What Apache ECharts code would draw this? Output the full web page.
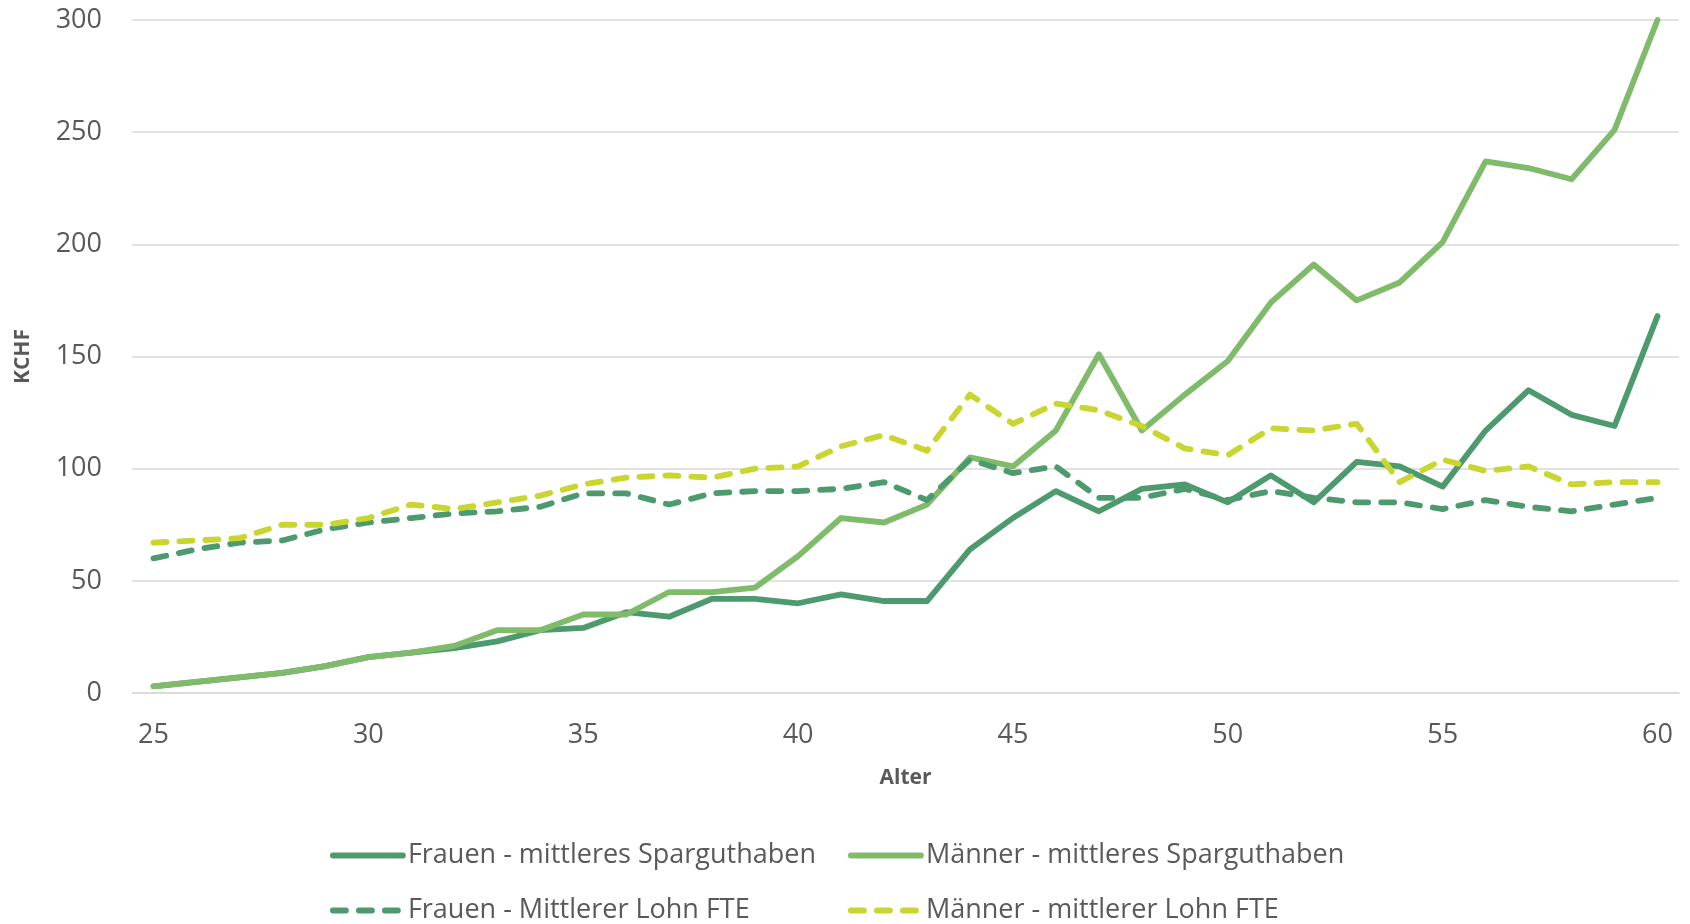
<!DOCTYPE html>
<html>
<head>
<meta charset="utf-8">
<title>Sparguthaben und Lohn nach Alter</title>
<script src="https://cdn.jsdelivr.net/npm/echarts@6/dist/echarts.min.js"></script>
<style>
  html, body { margin: 0; padding: 0; background: #fff; }
  #main { width: 1690px; height: 924px; }
</style>
</head>
<body>
<div id="main"></div>
<script>
// Alter 25..60
var ages = ['25','26','27','28','29','30','31','32','33','34','35','36','37','38','39','40','41','42',
            '43','44','45','46','47','48','49','50','51','52','53','54','55','56','57','58','59','60'];

// Werte in KCHF
var frauenSpar = [3,5,7,9,12,16,18,20,23,28, 29,36,34,42,42,40,44,41,41,64,
                  78,90,81,91,93,85,97,85,103,101, 92,117,135,124,119,168];
var maennerSpar = [3,5,7,9,12,16,18,21,28,28, 35,35,45,45,47,61,78,76,84,105,
                   101,117,151,117,133,148,174,191,175,183, 201,237,234,229,251,300];
var frauenLohn = [60,64,67,68,73,76,78,80,81,83, 89,89,84,89,90,90,91,94,86,104,
                  98,101,87,87,91,86,90,87,85,85, 82,86,83,81,84,87];
var maennerLohn = [67,68,69,75,75,78,84,82,85,88, 93,96,97,96,100,101,110,115,108,133,
                   120,129,126,119,109,106,118,117,120,94, 104,99,101,93,94,94];

var yTicks = [0, 50, 100, 150, 200, 250, 300];

var names = ['Frauen - mittleres Sparguthaben', 'Männer - mittleres Sparguthaben',
             'Frauen - Mittlerer Lohn FTE', 'Männer - mittlerer Lohn FTE'];

var txt = '#595959';
var font = "'Open Sans', 'Liberation Sans', sans-serif";
var dash = [13, 13];

var myChart = echarts.init(document.getElementById('main'));

function lineSeries(name, data, color, dashed) {
  return {
    name: name,
    type: 'line',
    data: data,
    symbol: 'none',
    lineStyle: {
      color: color,
      width: 5.8,
      type: dashed ? dash : 'solid',
      cap: 'round',
      join: 'round'
    },
    itemStyle: { color: color }
  };
}

// eine Legende pro Eintrag, damit die Spalten sauber untereinander stehen
function legendItem(name, left, top, color, dashed) {
  return {
    left: left, top: top,
    padding: 0,
    itemWidth: 70, itemHeight: 20,
    itemStyle: { opacity: 0 },
    lineStyle: { color: color, width: 5.8, type: dashed ? dash : 'solid', cap: 'round' },
    textStyle: { color: txt, fontSize: 27, fontFamily: font },
    data: [name]
  };
}

var option = {
  animation: false,
  backgroundColor: '#ffffff',
  grid: { left: 132, right: 11, top: 20, bottom: 231 },
  legend: [
    legendItem(names[0], 330, 842, '#4e9a6f', false),
    legendItem(names[1], 848, 842, '#80bb6b', false),
    legendItem(names[2], 330, 897, '#4e9a6f', true),
    legendItem(names[3], 848, 897, '#c8d62f', true)
  ],
  xAxis: {
    type: 'category',
    data: ages,
    boundaryGap: true,
    name: 'Alter',
    nameLocation: 'middle',
    nameGap: 75,
    nameTextStyle: { color: txt, fontSize: 21, fontWeight: 'bold', fontFamily: font },
    axisLine: { lineStyle: { color: '#d9d9d9', width: 1.5 } },
    axisTick: { show: false },
    axisLabel: { interval: 4, margin: 29, color: txt, fontSize: 27, fontFamily: font },
    splitLine: { show: false }
  },
  yAxis: {
    type: 'value',
    min: yTicks[0],
    max: yTicks[yTicks.length - 1],
    interval: 50,
    name: 'KCHF',
    nameLocation: 'middle',
    nameRotate: 90,
    nameGap: 98,
    nameTextStyle: { color: txt, fontSize: 21, fontWeight: 'bold', fontFamily: font },
    axisLine: { show: false },
    axisTick: { show: false },
    axisLabel: { margin: 30, color: txt, fontSize: 27, fontFamily: font },
    splitLine: { lineStyle: { color: '#d9d9d9', width: 1.5 } }
  },
  series: [
    lineSeries(names[0], frauenSpar, '#4e9a6f', false),
    lineSeries(names[1], maennerSpar, '#80bb6b', false),
    lineSeries(names[2], frauenLohn, '#4e9a6f', true),
    lineSeries(names[3], maennerLohn, '#c8d62f', true)
  ]
};

myChart.setOption(option);
</script>
</body>
</html>
